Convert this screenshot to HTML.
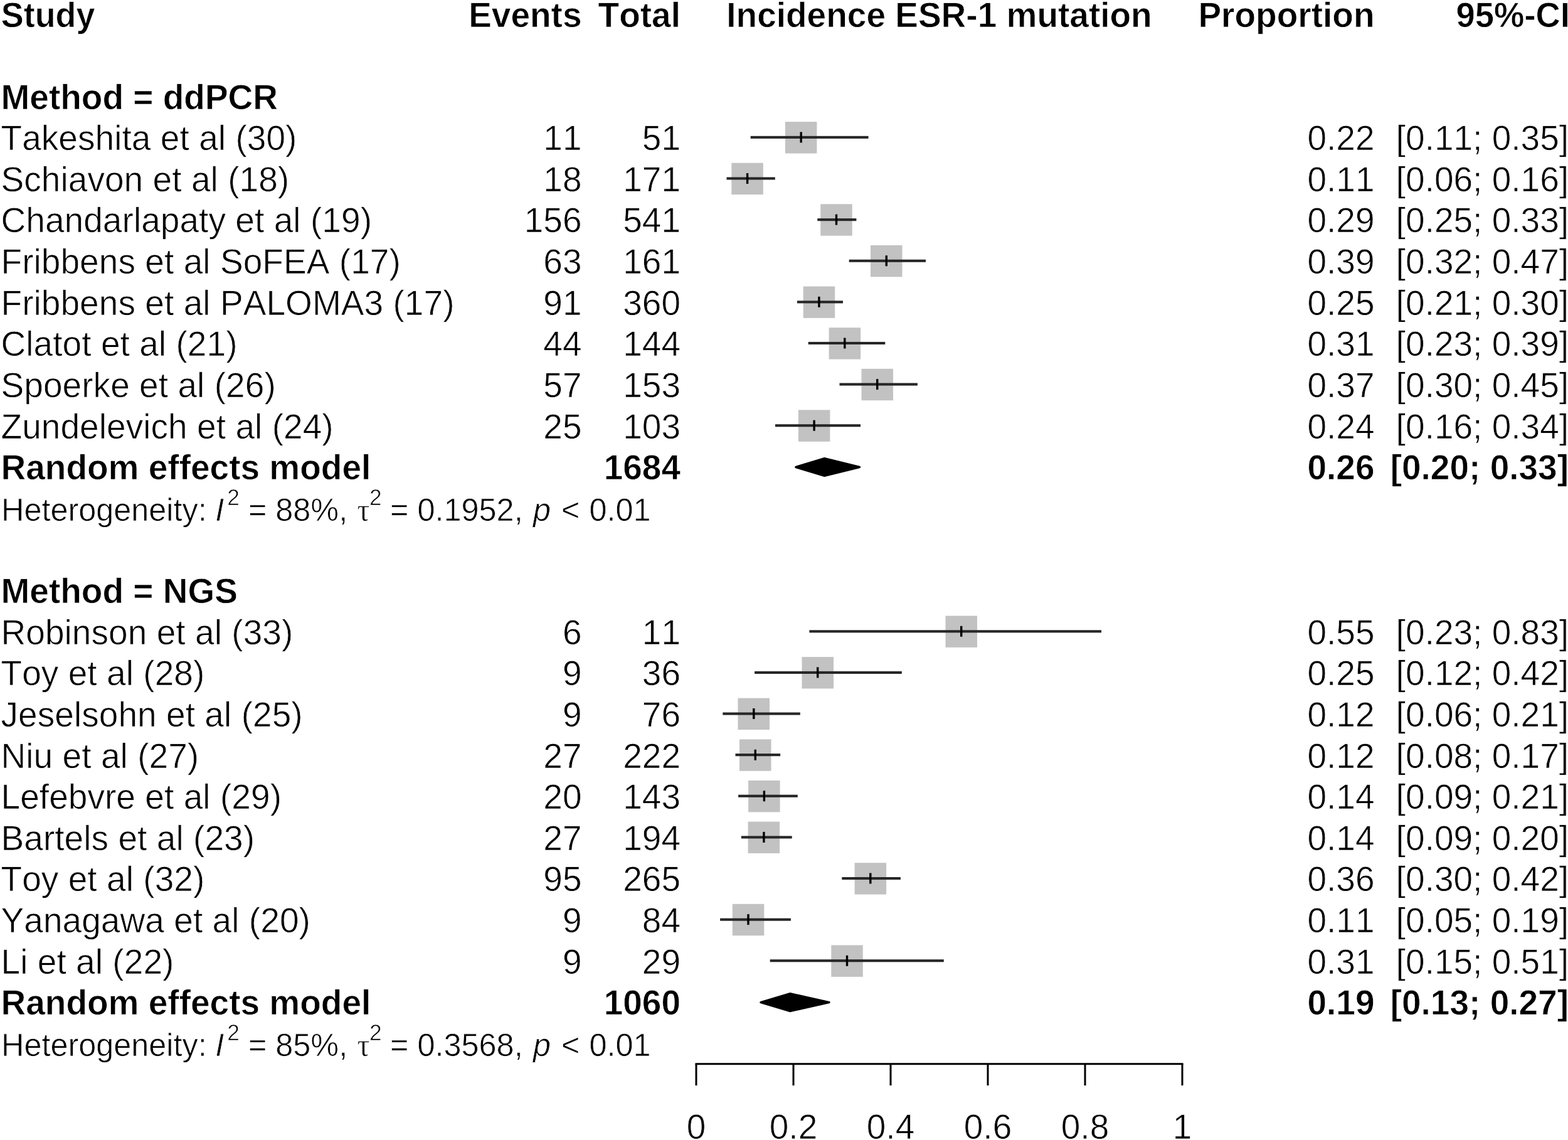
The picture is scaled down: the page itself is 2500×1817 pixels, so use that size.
<!DOCTYPE html>
<html lang="en"><head><meta charset="utf-8"><title>Forest plot: Incidence ESR-1 mutation</title>
<style>
html,body{margin:0;padding:0;background:#fff;}
body{width:2500px;height:1817px;overflow:hidden;}
svg{display:block;filter:blur(0.6px);}
text{font-family:"Liberation Sans",sans-serif;font-size:55px;fill:#000;font-kerning:none;font-variant-ligatures:none;text-rendering:geometricPrecision;white-space:pre;stroke:#fff;stroke-width:0.7px;stroke-linejoin:round;}
.b{font-weight:bold;}
.n{letter-spacing:0.06px;}
.r{text-anchor:end;}
.c{text-anchor:middle;}
.h{font-size:50.4px;}
.i{font-style:italic;}
.s{font-size:35.3px;}
.t{font-family:"Liberation Serif",serif;}
</style></head><body>
<svg width="2500" height="1817" viewBox="0 0 2500 1817">
<rect width="2500" height="1817" fill="#fff"/>
<rect x="1251.9" y="194.1" width="50.5" height="50.4" fill="#c2c2c2"/>
<rect x="1196.7" y="216.8" width="187.9" height="4.1" fill="#262626"/>
<rect x="1275.5" y="210.4" width="3.4" height="17.0" fill="#000"/>
<rect x="1166.3" y="259.7" width="50.5" height="50.4" fill="#c2c2c2"/>
<rect x="1158.5" y="282.4" width="77.3" height="4.1" fill="#262626"/>
<rect x="1189.9" y="276.0" width="3.4" height="17.0" fill="#000"/>
<rect x="1308.2" y="325.3" width="50.5" height="50.4" fill="#c2c2c2"/>
<rect x="1303.3" y="348.1" width="62.1" height="4.1" fill="#262626"/>
<rect x="1331.8" y="341.6" width="3.4" height="17.0" fill="#000"/>
<rect x="1388.0" y="390.9" width="50.5" height="50.4" fill="#c2c2c2"/>
<rect x="1353.7" y="413.7" width="122.3" height="4.1" fill="#262626"/>
<rect x="1411.6" y="407.2" width="3.4" height="17.0" fill="#000"/>
<rect x="1280.7" y="456.5" width="50.5" height="50.4" fill="#c2c2c2"/>
<rect x="1270.9" y="479.3" width="73.1" height="4.1" fill="#262626"/>
<rect x="1304.2" y="472.8" width="3.4" height="17.0" fill="#000"/>
<rect x="1321.6" y="522.2" width="50.5" height="50.4" fill="#c2c2c2"/>
<rect x="1288.7" y="544.9" width="122.6" height="4.1" fill="#262626"/>
<rect x="1345.1" y="538.5" width="3.4" height="17.0" fill="#000"/>
<rect x="1373.5" y="587.8" width="50.5" height="50.4" fill="#c2c2c2"/>
<rect x="1338.5" y="610.5" width="124.4" height="4.1" fill="#262626"/>
<rect x="1397.0" y="604.1" width="3.4" height="17.0" fill="#000"/>
<rect x="1272.9" y="653.4" width="50.5" height="50.4" fill="#c2c2c2"/>
<rect x="1236.0" y="676.2" width="136.0" height="4.1" fill="#262626"/>
<rect x="1296.4" y="669.7" width="3.4" height="17.0" fill="#000"/>
<polygon points="1269.0,744.5 1314.5,730.6 1370.4,744.5 1314.5,758.4" fill="#000" stroke="#000" stroke-width="3.4" stroke-linejoin="round"/>
<rect x="1507.5" y="981.5" width="50.5" height="50.4" fill="#c2c2c2"/>
<rect x="1290.4" y="1004.3" width="465.6" height="4.1" fill="#262626"/>
<rect x="1531.0" y="997.8" width="3.4" height="17.0" fill="#000"/>
<rect x="1278.5" y="1047.1" width="50.5" height="50.4" fill="#c2c2c2"/>
<rect x="1203.1" y="1069.9" width="234.7" height="4.1" fill="#262626"/>
<rect x="1302.0" y="1063.4" width="3.4" height="17.0" fill="#000"/>
<rect x="1176.5" y="1112.7" width="50.5" height="50.4" fill="#c2c2c2"/>
<rect x="1152.3" y="1135.5" width="123.5" height="4.1" fill="#262626"/>
<rect x="1200.1" y="1129.0" width="3.4" height="17.0" fill="#000"/>
<rect x="1179.0" y="1178.4" width="50.5" height="50.4" fill="#c2c2c2"/>
<rect x="1172.5" y="1201.1" width="71.6" height="4.1" fill="#262626"/>
<rect x="1202.6" y="1194.7" width="3.4" height="17.0" fill="#000"/>
<rect x="1193.1" y="1244.0" width="50.5" height="50.4" fill="#c2c2c2"/>
<rect x="1177.1" y="1266.7" width="94.7" height="4.1" fill="#262626"/>
<rect x="1216.7" y="1260.3" width="3.4" height="17.0" fill="#000"/>
<rect x="1192.6" y="1309.6" width="50.5" height="50.4" fill="#c2c2c2"/>
<rect x="1181.9" y="1332.4" width="80.8" height="4.1" fill="#262626"/>
<rect x="1216.2" y="1325.9" width="3.4" height="17.0" fill="#000"/>
<rect x="1362.6" y="1375.2" width="50.5" height="50.4" fill="#c2c2c2"/>
<rect x="1342.3" y="1398.0" width="93.6" height="4.1" fill="#262626"/>
<rect x="1386.1" y="1391.5" width="3.4" height="17.0" fill="#000"/>
<rect x="1167.8" y="1440.8" width="50.5" height="50.4" fill="#c2c2c2"/>
<rect x="1148.1" y="1463.6" width="112.8" height="4.1" fill="#262626"/>
<rect x="1191.3" y="1457.1" width="3.4" height="17.0" fill="#000"/>
<rect x="1325.3" y="1506.5" width="50.5" height="50.4" fill="#c2c2c2"/>
<rect x="1227.7" y="1529.2" width="277.1" height="4.1" fill="#262626"/>
<rect x="1348.8" y="1522.8" width="3.4" height="17.0" fill="#000"/>
<polygon points="1213.0,1597.6 1259.8,1583.7 1322.0,1597.6 1259.8,1611.5" fill="#000" stroke="#000" stroke-width="3.4" stroke-linejoin="round"/>
<g stroke="#000" stroke-width="3" fill="none">
<line x1="1108.5" y1="1695.7" x2="1886.5" y2="1695.7"/>
<line x1="1110.0" y1="1695.7" x2="1110.0" y2="1730.1"/>
<line x1="1265.0" y1="1695.7" x2="1265.0" y2="1730.1"/>
<line x1="1420.0" y1="1695.7" x2="1420.0" y2="1730.1"/>
<line x1="1575.0" y1="1695.7" x2="1575.0" y2="1730.1"/>
<line x1="1730.0" y1="1695.7" x2="1730.0" y2="1730.1"/>
<line x1="1885.0" y1="1695.7" x2="1885.0" y2="1730.1"/>
</g>
<g transform="scale(1,1.015)">
<text x="1.8" y="42.36" class="b" textLength="149.6" lengthAdjust="spacingAndGlyphs">Study</text>
<text x="927.5" y="42.36" class="b r">Events</text>
<text x="1085.0" y="42.36" class="b r">Total</text>
<text x="1497.5" y="42.36" class="b c">Incidence ESR-1 mutation</text>
<text x="2191.5" y="42.36" class="b r">Proportion</text>
<text x="2503.0" y="42.36" class="b r" textLength="181.4" lengthAdjust="spacingAndGlyphs">95%-CI</text>
<text x="1.5" y="171.07" class="b">Method = ddPCR</text>
<text x="1.5" y="235.72" class="n">Takeshita et al (30)</text>
<text x="927.5" y="235.72" class="r">11</text>
<text x="1085.0" y="235.72" class="r">51</text>
<text x="2191.5" y="235.72" class="r">0.22</text>
<text x="2501.0" y="235.72" class="r">[0.11; 0.35]</text>
<text x="1.5" y="300.37" class="n">Schiavon et al (18)</text>
<text x="927.5" y="300.37" class="r">18</text>
<text x="1085.0" y="300.37" class="r">171</text>
<text x="2191.5" y="300.37" class="r">0.11</text>
<text x="2501.0" y="300.37" class="r">[0.06; 0.16]</text>
<text x="1.5" y="365.02" class="n">Chandarlapaty et al (19)</text>
<text x="927.5" y="365.02" class="r">156</text>
<text x="1085.0" y="365.02" class="r">541</text>
<text x="2191.5" y="365.02" class="r">0.29</text>
<text x="2501.0" y="365.02" class="r">[0.25; 0.33]</text>
<text x="1.5" y="429.67" class="n">Fribbens et al SoFEA (17)</text>
<text x="927.5" y="429.67" class="r">63</text>
<text x="1085.0" y="429.67" class="r">161</text>
<text x="2191.5" y="429.67" class="r">0.39</text>
<text x="2501.0" y="429.67" class="r">[0.32; 0.47]</text>
<text x="1.5" y="494.33" class="n">Fribbens et al PALOMA3 (17)</text>
<text x="927.5" y="494.33" class="r">91</text>
<text x="1085.0" y="494.33" class="r">360</text>
<text x="2191.5" y="494.33" class="r">0.25</text>
<text x="2501.0" y="494.33" class="r">[0.21; 0.30]</text>
<text x="1.5" y="558.98" class="n">Clatot et al (21)</text>
<text x="927.5" y="558.98" class="r">44</text>
<text x="1085.0" y="558.98" class="r">144</text>
<text x="2191.5" y="558.98" class="r">0.31</text>
<text x="2501.0" y="558.98" class="r">[0.23; 0.39]</text>
<text x="1.5" y="623.63" class="n">Spoerke et al (26)</text>
<text x="927.5" y="623.63" class="r">57</text>
<text x="1085.0" y="623.63" class="r">153</text>
<text x="2191.5" y="623.63" class="r">0.37</text>
<text x="2501.0" y="623.63" class="r">[0.30; 0.45]</text>
<text x="1.5" y="688.28" class="n">Zundelevich et al (24)</text>
<text x="927.5" y="688.28" class="r">25</text>
<text x="1085.0" y="688.28" class="r">103</text>
<text x="2191.5" y="688.28" class="r">0.24</text>
<text x="2501.0" y="688.28" class="r">[0.16; 0.34]</text>
<text x="1.5" y="752.93" class="b">Random effects model</text>
<text x="1085.0" y="752.93" class="b r">1684</text>
<text x="2191.5" y="752.93" class="b r">0.26</text>
<text x="2501.0" y="752.93" class="b r">[0.20; 0.33]</text>
<text class="h" xml:space="preserve"><tspan x="2.0" y="817.58">Heterogeneity: </tspan><tspan x="343.3" y="817.58" class="i">I</tspan><tspan x="362.2" y="793.14" class="s">2</tspan><tspan x="381.9" y="817.58"> = 88%, </tspan><tspan x="569.6" y="817.58" class="t">τ</tspan><tspan x="588.9" y="793.14" class="s">2</tspan><tspan x="608.1" y="817.58"> = 0.1952, </tspan><tspan x="849.9" y="817.58" class="i">p</tspan><tspan x="880.9" y="817.58"> &lt; </tspan><tspan x="939.4" y="817.58">0.01</tspan></text>
<text x="1.5" y="946.88" class="b">Method = NGS</text>
<text x="1.5" y="1011.53" class="n">Robinson et al (33)</text>
<text x="927.5" y="1011.53" class="r">6</text>
<text x="1085.0" y="1011.53" class="r">11</text>
<text x="2191.5" y="1011.53" class="r">0.55</text>
<text x="2501.0" y="1011.53" class="r">[0.23; 0.83]</text>
<text x="1.5" y="1076.18" class="n">Toy et al (28)</text>
<text x="927.5" y="1076.18" class="r">9</text>
<text x="1085.0" y="1076.18" class="r">36</text>
<text x="2191.5" y="1076.18" class="r">0.25</text>
<text x="2501.0" y="1076.18" class="r">[0.12; 0.42]</text>
<text x="1.5" y="1140.83" class="n">Jeselsohn et al (25)</text>
<text x="927.5" y="1140.83" class="r">9</text>
<text x="1085.0" y="1140.83" class="r">76</text>
<text x="2191.5" y="1140.83" class="r">0.12</text>
<text x="2501.0" y="1140.83" class="r">[0.06; 0.21]</text>
<text x="1.5" y="1205.48" class="n">Niu et al (27)</text>
<text x="927.5" y="1205.48" class="r">27</text>
<text x="1085.0" y="1205.48" class="r">222</text>
<text x="2191.5" y="1205.48" class="r">0.12</text>
<text x="2501.0" y="1205.48" class="r">[0.08; 0.17]</text>
<text x="1.5" y="1270.13" class="n">Lefebvre et al (29)</text>
<text x="927.5" y="1270.13" class="r">20</text>
<text x="1085.0" y="1270.13" class="r">143</text>
<text x="2191.5" y="1270.13" class="r">0.14</text>
<text x="2501.0" y="1270.13" class="r">[0.09; 0.21]</text>
<text x="1.5" y="1334.78" class="n">Bartels et al (23)</text>
<text x="927.5" y="1334.78" class="r">27</text>
<text x="1085.0" y="1334.78" class="r">194</text>
<text x="2191.5" y="1334.78" class="r">0.14</text>
<text x="2501.0" y="1334.78" class="r">[0.09; 0.20]</text>
<text x="1.5" y="1399.43" class="n">Toy et al (32)</text>
<text x="927.5" y="1399.43" class="r">95</text>
<text x="1085.0" y="1399.43" class="r">265</text>
<text x="2191.5" y="1399.43" class="r">0.36</text>
<text x="2501.0" y="1399.43" class="r">[0.30; 0.42]</text>
<text x="1.5" y="1464.08" class="n">Yanagawa et al (20)</text>
<text x="927.5" y="1464.08" class="r">9</text>
<text x="1085.0" y="1464.08" class="r">84</text>
<text x="2191.5" y="1464.08" class="r">0.11</text>
<text x="2501.0" y="1464.08" class="r">[0.05; 0.19]</text>
<text x="1.5" y="1528.73" class="n">Li et al (22)</text>
<text x="927.5" y="1528.73" class="r">9</text>
<text x="1085.0" y="1528.73" class="r">29</text>
<text x="2191.5" y="1528.73" class="r">0.31</text>
<text x="2501.0" y="1528.73" class="r">[0.15; 0.51]</text>
<text x="1.5" y="1593.38" class="b">Random effects model</text>
<text x="1085.0" y="1593.38" class="b r">1060</text>
<text x="2191.5" y="1593.38" class="b r">0.19</text>
<text x="2501.0" y="1593.38" class="b r">[0.13; 0.27]</text>
<text class="h" xml:space="preserve"><tspan x="2.0" y="1658.03">Heterogeneity: </tspan><tspan x="343.3" y="1658.03" class="i">I</tspan><tspan x="362.2" y="1633.60" class="s">2</tspan><tspan x="381.9" y="1658.03"> = 85%, </tspan><tspan x="569.6" y="1658.03" class="t">τ</tspan><tspan x="588.9" y="1633.60" class="s">2</tspan><tspan x="608.1" y="1658.03"> = 0.3568, </tspan><tspan x="849.9" y="1658.03" class="i">p</tspan><tspan x="880.9" y="1658.03"> &lt; </tspan><tspan x="939.4" y="1658.03">0.01</tspan></text>
<text x="1110.0" y="1788.18" class="c">0</text>
<text x="1265.0" y="1788.18" class="c">0.2</text>
<text x="1420.0" y="1788.18" class="c">0.4</text>
<text x="1575.0" y="1788.18" class="c">0.6</text>
<text x="1730.0" y="1788.18" class="c">0.8</text>
<text x="1885.0" y="1788.18" class="c">1</text>
</g>
</svg></body></html>
